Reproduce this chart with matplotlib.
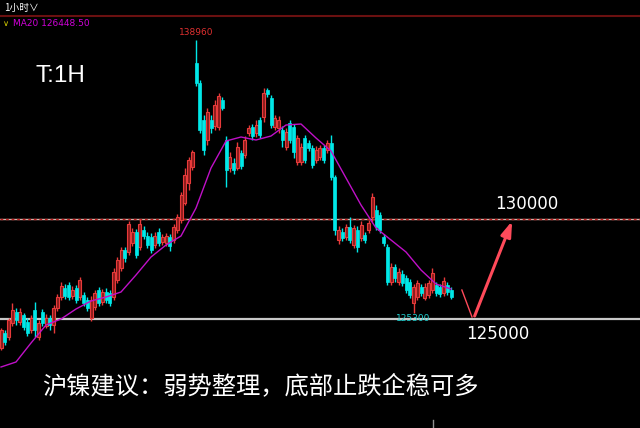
import matplotlib
matplotlib.use("Agg")
import matplotlib.pyplot as plt
import numpy as np

plt.rcParams['font.family'] = ['Noto Sans CJK SC', 'DejaVu Sans']

# hourly candles (price)
opens = [123550, 124300, 124100, 124800, 125350, 124850, 125200, 124850, 124450, 125450,
         124100, 125350, 124650, 125050, 124700, 125550, 126100, 126550, 126700, 126150,
         126550, 126100, 126200, 125950, 125050, 125600, 126450, 125850, 126350, 126300,
         126100, 126950, 127550, 128450, 128350, 128800, 129350, 128600, 129450, 129150,
         129100, 128700, 129350, 128850, 128800, 129100, 128950, 129450, 129950, 130800,
         131800, 132600, 137800, 136800, 134950, 133950, 134950, 134650, 134600, 135950,
         133950, 132550, 132800, 132550, 133300, 133200, 134300, 134600, 134300, 134950,
         135100, 136450, 136050, 134600, 134550, 134450, 133600, 134800, 134600, 132850,
         132850, 134050, 133800, 133550, 132950, 133100, 133550, 133450, 133800, 132100,
         128950, 129350, 129100, 129600, 128700, 129450, 129050, 129200, 129450, 130100,
         130450, 130200, 129100, 128600, 126850, 127600, 126850, 127250, 127050, 126850,
         125800, 126100, 126600, 126050, 126200, 126450, 126700, 126600, 126300, 126700,
         126450]
closes = [124450, 123850, 124950, 125450, 124950, 125350, 124600, 124300, 125050, 124450,
          124800, 124800, 125050, 124700, 125550, 126100, 126650, 126150, 126100, 126450,
          125950, 126950, 125800, 125550, 125950, 126300, 125800, 126350, 125950, 125800,
          127350, 127950, 128450, 128050, 129750, 129350, 128200, 129750, 129150, 128700,
          128450, 129150, 128800, 129100, 129150, 128650, 129600, 130100, 131200, 132200,
          132950, 133350, 136800, 134450, 133450, 135350, 134550, 135700, 136150, 135550,
          132450, 133100, 132450, 133600, 132650, 133950, 134550, 134150, 134700, 134200,
          136300, 136250, 134700, 135050, 134950, 133950, 134350, 133950, 133350, 134050,
          133600, 132950, 133550, 132700, 133450, 133550, 132950, 133800, 132100, 129450,
          129450, 129050, 129600, 128950, 129550, 128600, 129700, 128950, 129800, 131100,
          129600, 129450, 128800, 126850, 127600, 127050, 127350, 126800, 126450, 126200,
          126600, 126800, 126300, 126600, 126800, 127300, 126300, 126250, 126900, 126350,
          126100]
highs = [124550, 124450, 125050, 125800, 125550, 125550, 125300, 125050, 125200, 125850,
         124950, 125500, 125250, 125200, 125700, 126250, 126850, 126750, 126850, 126650,
         126700, 127100, 126350, 126100, 126150, 126450, 126600, 126500, 126550, 126450,
         127550, 128100, 128600, 128600, 129900, 129550, 129500, 130000, 129650, 129350,
         129300, 129350, 129550, 129250, 129300, 129250, 129750, 130250, 131350, 132550,
         133100, 133450, 138960, 136950, 135200, 135550, 135200, 135950, 136300, 136100,
         134150, 133350, 133050, 133850, 133450, 134150, 134700, 134750, 134950, 135100,
         136550, 136550, 136200, 135200, 135150, 134650, 134550, 134950, 134750, 134200,
         133800, 134200, 133950, 133700, 133650, 133700, 133700, 133950, 134200, 132200,
         129650, 129550, 129750, 130100, 129700, 129650, 129900, 129350, 129950, 131300,
         130700, 130350, 129250, 128750, 127800, 127750, 127550, 127450, 127200, 127000,
         126750, 126950, 126750, 126800, 126950, 127550, 126850, 126750, 127100, 126850,
         126600]
lows = [123450, 123700, 123950, 124650, 124700, 124700, 124450, 124150, 124300, 124100,
        123950, 124650, 124550, 124450, 124300, 125400, 125950, 126000, 125950, 126000,
        125800, 125950, 125650, 125400, 124900, 125450, 125650, 125700, 125800, 125650,
        125950, 126800, 127400, 127850, 128200, 128650, 128050, 128450, 129000, 128550,
        128300, 128550, 128650, 128700, 128650, 128400, 128800, 129300, 129800, 130700,
        131450, 132450, 136650, 134300, 133200, 133700, 134300, 134450, 134450, 135450,
        131600, 132350, 132250, 132450, 132500, 133050, 134150, 133950, 134100, 134050,
        134850, 136100, 134550, 134450, 134300, 133600, 133450, 133800, 133050, 132700,
        132700, 132800, 133400, 132550, 132800, 132950, 132800, 133300, 131950, 129200,
        128750, 128900, 128950, 128800, 128550, 128350, 128900, 128800, 129300, 129850,
        129450, 129300, 128650, 126700, 126700, 126850, 126700, 126650, 126300, 126050,
        125300, 125950, 126150, 125950, 126050, 126300, 126150, 126100, 126150, 126200,
        126000]

# MA20 read every 4 candles
ma_idx = list(range(0, 121, 4))
ma20 = [122600, 122850, 123800, 124700, 125000, 125500, 125900, 126100, 126350, 127200,
        128100, 128700, 129150, 130550, 132550, 133900, 134100, 133950, 134150, 134700,
        134750, 134050, 133400, 132050, 130700, 129550, 128950, 128350, 127450, 126750,
        126500]

hi_label = '138960'
lo_label = '125300'
target_hi = 130000
target_lo = 125000

o = np.array(opens); c = np.array(closes)
h = np.array(highs); l = np.array(lows)
x = np.arange(len(o))
up = c >= o

fig = plt.figure(figsize=(6.4, 4.28), dpi=100, facecolor='black')
ax = fig.add_axes([0, 0, 1, 1])
ax.set_facecolor('black')
ax.set_xlim(-0.27, 170.4)
ax.set_ylim(119550, 140950)
ax.axis('off')

# level lines
ax.axhline(target_hi, color='#d9b0a8', lw=1.0, zorder=1)
ax.axhline(target_hi, color='#c02020', lw=1.0, ls=(0, (2, 2)), zorder=1)
ax.axhline(target_lo, color='#c8c8c8', lw=1.6, zorder=1)

red_edge = '#e83a3a'
red_face = '#8a1c1c'
cyan = '#00e8e8'

ax.vlines(x[up], l[up], h[up], color=red_edge, lw=1.0, zorder=2)
ax.vlines(x[~up], l[~up], h[~up], color=cyan, lw=1.0, zorder=2)
ax.bar(x[up], c[up] - o[up], bottom=o[up], width=0.8,
       color=red_face, edgecolor=red_edge, linewidth=0.8, zorder=3)
ax.bar(x[~up], c[~up] - o[~up], bottom=o[~up], width=0.8,
       color=cyan, edgecolor=cyan, linewidth=0.5, zorder=3)

ax.plot(ma_idx, ma20, color='#c010c8', lw=1.0, zorder=4)

# labels
ax.annotate(hi_label, (52, highs[52]), xytext=(0, 2), textcoords='offset points',
            ha='center', va='bottom', color='#e03030', fontsize=6.5, family='DejaVu Sans')
ax.annotate(lo_label, (110, lows[110]), xytext=(0, -1), textcoords='offset points',
            ha='center', va='top', color='#20d0d0', fontsize=6.5, family='DejaVu Sans')
ax.annotate(str(target_hi), (140.3, target_hi), xytext=(0, 4), textcoords='offset points',
            ha='center', va='bottom', color='white', fontsize=12, family='DejaVu Sans')
ax.annotate(str(target_lo), (132.5, target_lo), xytext=(0, -4), textcoords='offset points',
            ha='center', va='top', color='white', fontsize=12, family='DejaVu Sans')

# forecast arrow
ax.plot([122.9, 125.6], [126450, 125100], color='#ff4a5a', lw=1.0, zorder=5)
ax.annotate('', xy=(136.3, 129900), xytext=(126.3, 125150),
            arrowprops=dict(arrowstyle='-|>,head_length=0.9,head_width=0.3',
                            color='#ff4a5a', lw=2.2, shrinkA=0, shrinkB=0), zorder=5)

# header
fig.add_artist(plt.Line2D([0, 1], [1 - 16 / 428] * 2, color='#6a1010', lw=1.5))
fig.text(4 / 640, 1 - 8 / 428, '1小时∨', color='white', fontsize=7,
         ha='left', va='center', family=['Noto Sans CJK SC', 'DejaVu Sans'])
fig.text(3 / 640, 1 - 24 / 428, '∨', color='#d8d000', fontsize=6, ha='left', va='center',
         family='DejaVu Sans')
fig.text(13 / 640, 1 - 24 / 428, 'MA20 126448.50', color='#d000d8', fontsize=6.5,
         ha='left', va='center', family='DejaVu Sans')
fig.text(35 / 640, 1 - 76 / 428, 'T:1H', color='white', fontsize=17.5, ha='left', va='center',
         family='Liberation Sans')

fig.text(42 / 640, 1 - 386 / 428, '沪镍建议：弱势整理，底部止跌企稳可多', color='white',
         fontsize=17.5, ha='left', va='center', family=['Noto Sans CJK SC', 'DejaVu Sans'])
fig.add_artist(plt.Line2D([433 / 640] * 2, [0, 8 / 428], color='#909090', lw=1))

fig.savefig('out.png', dpi=100, facecolor='black')
